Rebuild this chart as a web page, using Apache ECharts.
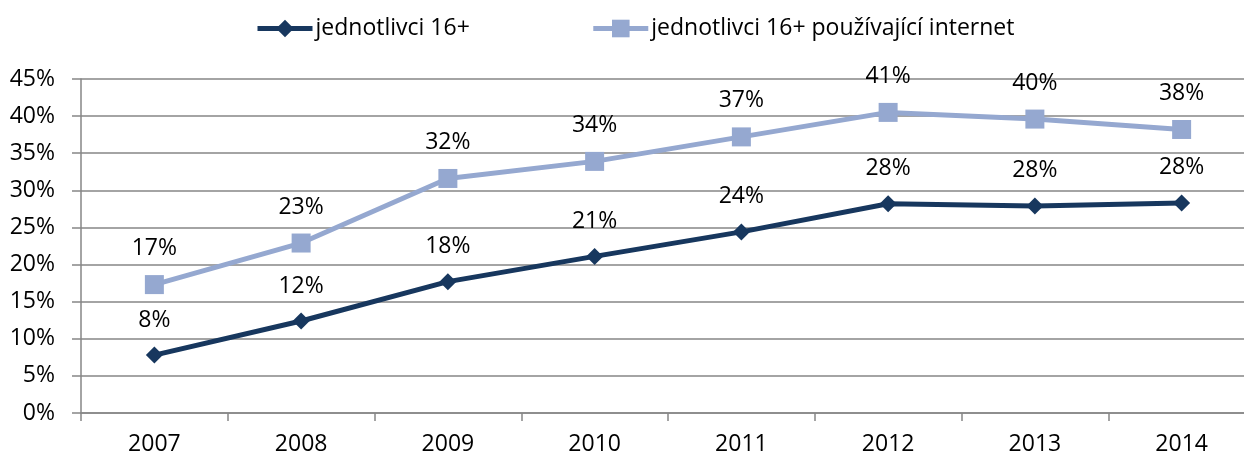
<!DOCTYPE html>
<html>
<head>
<meta charset="utf-8">
<script src="https://cdn.jsdelivr.net/npm/echarts@6/dist/echarts.min.js"></script>
<style>
  html, body { margin: 0; padding: 0; background: #fff; }
  #chart { width: 1244px; height: 456px; }
</style>
</head>
<body>
<div id="chart"></div>
<script>
// data
var years = ['2007', '2008', '2009', '2010', '2011', '2012', '2013', '2014'];
var allPeople = [7.8, 12.4, 17.7, 21.1, 24.4, 28.2, 27.9, 28.3];
var internetUsers = [17.3, 22.9, 31.6, 33.9, 37.2, 40.5, 39.6, 38.2];
var seriesNames = ['jednotlivci 16+', 'jednotlivci 16+ používající internet'];

var FONT = 'Open Sans';
var FS = 23;
var DARK = '#17375E';
var LIGHT = '#95A8D0';
var chart = echarts.init(document.getElementById('chart'));

function pct(p) {
  return Math.round(p.value) + '%';
}

var option = {
  animation: false,
  textStyle: { fontFamily: FONT },
  legend: {
    top: 12,
    left: 250,
    itemGap: 121,
    itemWidth: 55,
    itemHeight: 22,
    textStyle: { fontFamily: FONT, fontSize: FS, color: '#000', padding: [0, 0, 0, -2] },
    data: [
      { name: seriesNames[0], lineStyle: { width: 5 } },
      { name: seriesNames[1], lineStyle: { width: 5 } }
    ]
  },
  grid: {
    left: 81,
    width: 1174,
    top: 79,
    bottom: 43,
    outerBoundsMode: 'none'
  },
  xAxis: {
    type: 'category',
    data: years,
    boundaryGap: true,
    axisLine: { lineStyle: { color: '#868686', width: 1.5 } },
    axisTick: { show: true, length: 8, lineStyle: { color: '#868686', width: 1.5 } },
    axisLabel: { color: '#000', fontSize: FS, fontFamily: FONT, margin: 20 },
    splitLine: { show: false }
  },
  yAxis: {
    type: 'value',
    min: 0,
    max: 45,
    interval: 5,
    axisLine: { show: true, lineStyle: { color: '#868686', width: 1.5 } },
    axisTick: { show: true, length: 9, lineStyle: { color: '#868686', width: 1.5 } },
    axisLabel: { color: '#000', fontSize: FS, fontFamily: FONT, margin: 26, formatter: '{value}%' },
    splitLine: { lineStyle: { color: '#868686', width: 1.5 } }
  },
  series: [
    {
      name: seriesNames[0],
      type: 'line',
      data: allPeople,
      symbol: 'diamond',
      symbolSize: 17,
      lineStyle: { color: DARK, width: 5 },
      itemStyle: { color: DARK },
      label: {
        show: true, position: 'top', distance: 15,
        fontSize: FS, fontFamily: FONT, color: '#000',
        formatter: pct
      }
    },
    {
      name: seriesNames[1],
      type: 'line',
      data: internetUsers,
      symbol: 'rect',
      symbolSize: 19,
      lineStyle: { color: LIGHT, width: 5 },
      itemStyle: { color: LIGHT },
      label: {
        show: true, position: 'top', distance: 15,
        fontSize: FS, fontFamily: FONT, color: '#000',
        formatter: pct
      }
    }
  ]
};

chart.setOption(option);
</script>
</body>
</html>
